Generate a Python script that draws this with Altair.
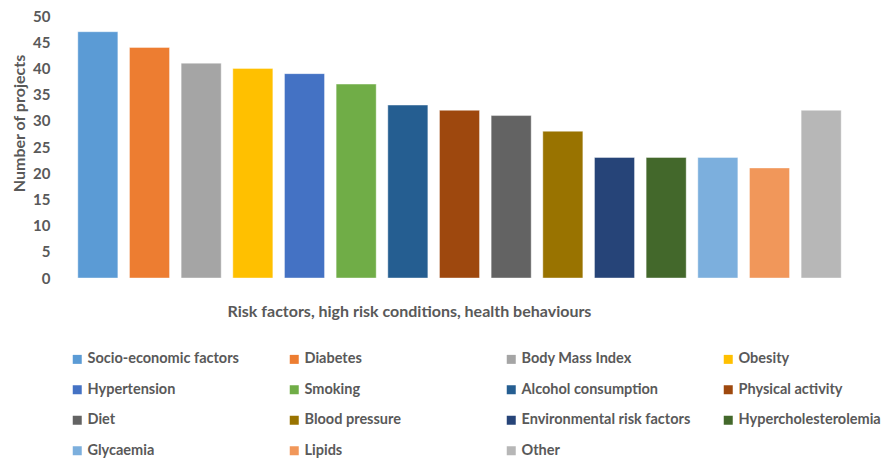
import altair as alt
import pandas as pd

categories = ["Socio-economic factors", "Diabetes", "Body Mass Index", "Obesity",
              "Hypertension", "Smoking", "Alcohol consumption", "Physical activity",
              "Diet", "Blood pressure", "Environmental risk factors", "Hypercholesterolemia",
              "Glycaemia", "Lipids", "Other"]
values = [47, 44, 41, 40, 39, 37, 33, 32, 31, 28, 23, 23, 23, 21, 32]
colors = ["#5B9BD5", "#ED7D31", "#A5A5A5", "#FFC000", "#4472C4", "#70AD47",
          "#255E91", "#9E480E", "#636363", "#997300", "#264478", "#43682B",
          "#7CAFDD", "#F1975A", "#B7B7B7"]
y_ticks = [0, 5, 10, 15, 20, 25, 30, 35, 40, 45, 50]

df = pd.DataFrame({"category": categories, "value": values})

FONT = "Lato"
GREY = "#595959"

chart = alt.Chart(df).mark_bar(stroke="white", strokeOpacity=0.5, strokeWidth=0.8).encode(
    x=alt.X("category:N", sort=categories,
            scale=alt.Scale(paddingInner=0.225, paddingOuter=0.1125),
            axis=alt.Axis(title="Risk factors, high risk conditions, health behaviours",
                          labels=False, ticks=False, domain=False,
                          titleX=337, titleY=33, titleBaseline="middle", titleAlign="center",
                          titleFont=FONT, titleFontSize=16, titleFontWeight="bold",
                          titleColor=GREY)),
    y=alt.Y("value:Q", scale=alt.Scale(domain=[0, 50], nice=False),
            axis=alt.Axis(title="Number of projects", values=y_ticks, grid=False,
                          ticks=False, domain=False, labelPadding=22,
                          labelFont=FONT, labelFontSize=15, labelFontWeight="bold",
                          labelColor=GREY,
                          titleX=-53, titleY=107, titleBaseline="middle", titleAlign="center",
                          titleFont=FONT, titleFontSize=16, titleFontWeight="bold",
                          titleColor=GREY)),
    color=alt.Color("category:N", sort=categories,
                    scale=alt.Scale(domain=categories, range=colors),
                    legend=alt.Legend(title=None, orient="none", legendX=-2, legendY=336,
                                      direction="horizontal",
                                      columns=4, gridAlign="all", columnPadding=30,
                                      rowPadding=15.5, symbolType="square", symbolSize=81,
                                      symbolStrokeWidth=0, labelOffset=3,
                                      labelFont=FONT, labelFontSize=14.5, labelFontWeight="bold",
                                      labelColor=GREY, labelLimit=300)),
).properties(
    width=775, height=262,
    autosize="none",
    padding={"left": 64, "top": 8, "right": 39, "bottom": 180},
).configure_view(stroke=None)

chart.save("out.html", embed_options={"renderer": "svg", "actions": False})
